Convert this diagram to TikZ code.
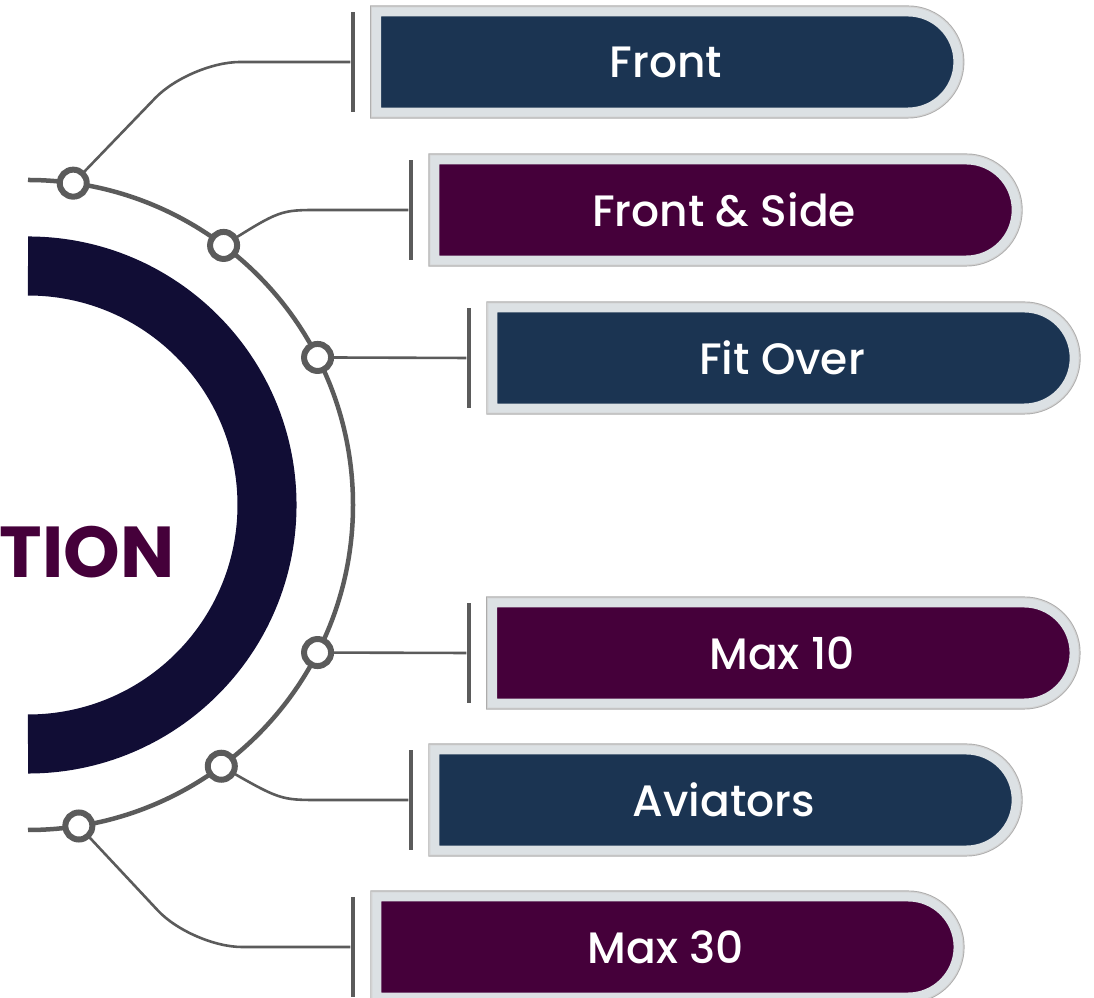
\documentclass[tikz,border=0pt]{standalone}
\usepackage{fontspec}
\setmainfont{Poppins}
\newfontfamily\labelfont{Poppins Medium}
\usetikzlibrary{shapes.misc, calc}

\definecolor{navybox}{HTML}{1B3452}
\definecolor{plumbox}{HTML}{45003A}
\definecolor{ringnavy}{HTML}{110D35}
\definecolor{linegray}{HTML}{5B5B5B}
\definecolor{framegray}{HTML}{DCE1E4}

\begin{document}
\begin{tikzpicture}[x=0.01cm, y=-0.01cm,
    box/.style={rounded rectangle, rounded rectangle west arc=none,
        minimum width=5.81cm, minimum height=1cm, inner sep=0pt,
        text=white, font=\labelfont\fontsize{12.5}{15}\selectfont,
        preaction={draw=gray!65, line width=1.3mm},
        preaction={draw=gray!35, line width=1.12mm},
        draw=framegray, line width=0.9mm},
    navy/.style={box, fill=navybox},
    plum/.style={box, fill=plumbox},
    dot/.style={circle, draw=linegray, line width=0.6mm, fill=white,
        minimum size=2.7mm, inner sep=0pt},
    bar/.style={fill=linegray, minimum width=0.4mm, minimum height=1cm, inner sep=0pt},
    link/.style={draw=linegray, line width=0.26mm}]

    % --- 1. CANVAS & PARAMETERS ---
    \useasboundingbox (0,0) rectangle (1094,998);
    \def\cx{28}      % centre of both arcs
    \def\cy{505}
    \def\rRing{239}  % mid radius of the thick half ring
    \def\rArc{325}   % radius of the thin outer arc

    % --- 2. HALF RING & TITLE ---
    \draw[ringnavy, line width=5.9mm] (\cx,\cy) ++(-90:\rRing)
        arc[start angle=-90, end angle=90, radius=\rRing];
    \node[anchor=base east, inner sep=0pt, text=plumbox,
        font=\bfseries\fontsize{20.5}{25}\selectfont] (title) at (175,578) {TION};

    % --- 3. OUTER ARC ---
    \draw[linegray, line width=0.45mm] (\cx,\cy) ++(-90:\rArc)
        arc[start angle=-90, end angle=90, radius=\rArc];

    % --- 4. LABEL BOXES ---
    \node[navy] (front)     at (666,62)  {Front};
    \node[plum] (frontside) at (724,210) {Front \& Side};
    \node[navy] (fitover)   at (782,358) {Fit Over};
    \node[plum] (maxten)    at (782,653) {Max 10};
    \node[navy] (aviators)  at (724,800) {Aviators};
    \node[plum] (maxthirty) at (666,947) {Max 30};

    % End bars in front of the boxes
    \node[bar] (b1) at (353,62)  {};
    \node[bar] (b2) at (411,210) {};
    \node[bar] (b3) at (469,358) {};
    \node[bar] (b4) at (469,653) {};
    \node[bar] (b5) at (411,800) {};
    \node[bar] (b6) at (353,947) {};

    % --- 5. LINKS ---
    \draw[link, rounded corners=5mm] (\cx,\cy) ++(-82:\rArc) coordinate (p1) -- (190,62) -- (b1);
    \draw[link] (\cx,\cy) ++(-53:\rArc) coordinate (p2) .. controls (280,210) .. (320,210) -- (b2);
    \draw[link] (\cx,\cy) ++(-27:\rArc) coordinate (p3) -- (b3);
    \draw[link] (\cx,\cy) ++(27:\rArc) coordinate (p4) -- (b4);
    \draw[link] (\cx,\cy) ++(53.5:\rArc) coordinate (p5) .. controls (280,800) .. (320,800) -- (b5);
    \draw[link, rounded corners=5mm] (\cx,\cy) ++(81:\rArc) coordinate (p6) -- (192,947) -- (b6);

    % --- 6. JOINTS ON THE ARC ---
    \foreach \n in {1,...,6}
        \node[dot] (n\n) at (p\n) {};

\end{tikzpicture}
\end{document}
